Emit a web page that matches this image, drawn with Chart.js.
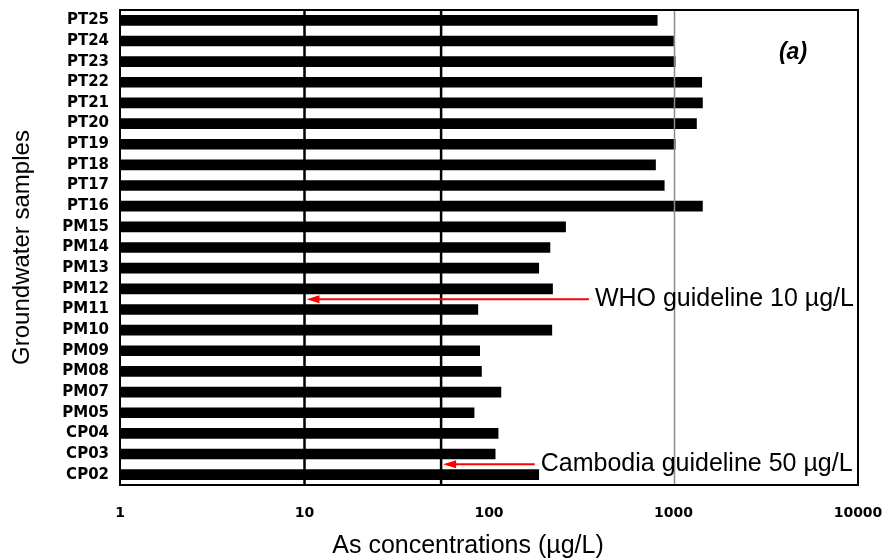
<!DOCTYPE html>
<html><head><meta charset="utf-8">
<script src="https://cdn.jsdelivr.net/npm/chart.js@4"></script>
<style>html,body{margin:0;padding:0;background:#fff;}</style>
</head><body>
<canvas id="c" width="891" height="560"></canvas>
<script>
// ---- data ----
const categories = ['PT25','PT24','PT23','PT22','PT21','PT20','PT19','PT18','PT17','PT16',
  'PM15','PM14','PM13','PM12','PM11','PM10','PM09','PM08','PM07','PM05','CP04','CP03','CP02'];
const concentrations = [816,1000,1021,1422,1435,1332,1021,799,891,1435,
  260,214,186,221,87,219,89,91,116,83,112,108,186];
const xTickValues = [1,10,100,1000,10000];
const greyGridValues = [1000];
const guidelineValues = [10, 55];
const guidelineTexts = ['WHO guideline 10 µg/L','Cambodia guideline 50 µg/L'];
const guidelineArrowRows = [['PM12','PM11'],['CP03','CP02']];
const guidelineArrowTails = [348, 177];
const xTitle = 'As concentrations (µg/L)';
const yTitle = 'Groundwater samples';
const panelLabel = '(a)';

const overlay = {
  id: 'overlay',
  afterDatasetsDraw(chart) {
    const {ctx, chartArea: a, scales: {x}} = chart;
    ctx.save();
    ctx.strokeStyle = '#8c8c8c'; ctx.lineWidth = 1.5;
    greyGridValues.forEach(v => {
      const px = Math.round(x.getPixelForValue(v)) + 0.5;
      ctx.beginPath(); ctx.moveTo(px, a.top); ctx.lineTo(px, a.bottom); ctx.stroke();
    });
    ctx.strokeStyle = '#000'; ctx.lineWidth = 2.5;
    guidelineValues.forEach(v => {
      const px = x.getPixelForValue(v);
      ctx.beginPath(); ctx.moveTo(px, a.top); ctx.lineTo(px, a.bottom); ctx.stroke();
    });
    ctx.lineWidth = 2;
    ctx.strokeRect(a.left, a.top, a.right - a.left, a.bottom - a.top);
    ctx.restore();
  },
  afterDraw(chart) {
    const {ctx, chartArea: a, scales: {x, y}} = chart;
    ctx.save();
    guidelineValues.forEach((v, i) => {
      const rows = guidelineArrowRows[i].map(r => y.getPixelForValue(categories.indexOf(r)));
      const py = (rows[0] + rows[1]) / 2;
      const tip = x.getPixelForValue(v) + 2;
      const tail = x.getPixelForValue(guidelineArrowTails[i]);
      ctx.strokeStyle = '#ff0000'; ctx.fillStyle = '#ff0000'; ctx.lineWidth = 2;
      ctx.beginPath(); ctx.moveTo(tail, py); ctx.lineTo(tip + 10, py); ctx.stroke();
      ctx.beginPath(); ctx.moveTo(tip, py); ctx.lineTo(tip + 13, py - 4); ctx.lineTo(tip + 13, py + 4); ctx.closePath(); ctx.fill();
      ctx.fillStyle = '#000';
      ctx.font = '25px "Liberation Sans", Arial, sans-serif';
      ctx.textAlign = 'left'; ctx.textBaseline = 'alphabetic';
      ctx.fillText(guidelineTexts[i], tail + 6, py + 7);
    });
    ctx.fillStyle = '#000';
    ctx.font = 'italic bold 23px "Liberation Sans", Arial, sans-serif';
    ctx.textAlign = 'center'; ctx.textBaseline = 'middle';
    ctx.fillText(panelLabel, a.right - 65, a.top + 43);
    ctx.font = '25px "Liberation Sans", Arial, sans-serif';
    ctx.textBaseline = 'alphabetic';
    ctx.fillText(xTitle, (a.left + a.right) / 2 - 21, 553);
    ctx.restore();
  }
};

new Chart(document.getElementById('c'), {
  type: 'bar',
  data: {
    labels: categories,
    datasets: [{ data: concentrations, backgroundColor: '#000', borderWidth: 0, barThickness: 10 }]
  },
  options: {
    indexAxis: 'y',
    responsive: false,
    animation: false,
    devicePixelRatio: 1,
    layout: { padding: { top: 10, right: 33, left: 0, bottom: 0 } },
    plugins: { legend: { display: false }, tooltip: { enabled: false } },
    scales: {
      x: {
        type: 'logarithmic',
        min: 1, max: 10000,
        afterBuildTicks(s) { s.ticks = xTickValues.map(v => ({ value: v })); },
        afterFit(s) { s.height = 75; s.paddingLeft = 0; s.paddingRight = 0; },
        grid: { display: false, drawTicks: false },
        border: { display: false },
        ticks: {
          autoSkip: false, maxRotation: 0, padding: 20, color: '#000',
          font: { family: 'DejaVu Sans', size: 14, weight: 'bold' },
          callback: v => String(v)
        }
      },
      y: {
        afterFit(s) { s.width = 120; s.paddingTop = 0; s.paddingBottom = 0; },
        grid: { display: false, drawTicks: false },
        border: { display: false },
        ticks: {
          autoSkip: false, padding: 11, color: '#000',
          font: { family: 'DejaVu Sans', size: 15, weight: 'bold' }
        },
        title: {
          display: true, text: yTitle, color: '#000',
          font: { family: 'Liberation Sans', size: 24 },
          padding: { top: 8, bottom: 0 }
        }
      }
    }
  },
  plugins: [overlay]
});
</script>
</body></html>
